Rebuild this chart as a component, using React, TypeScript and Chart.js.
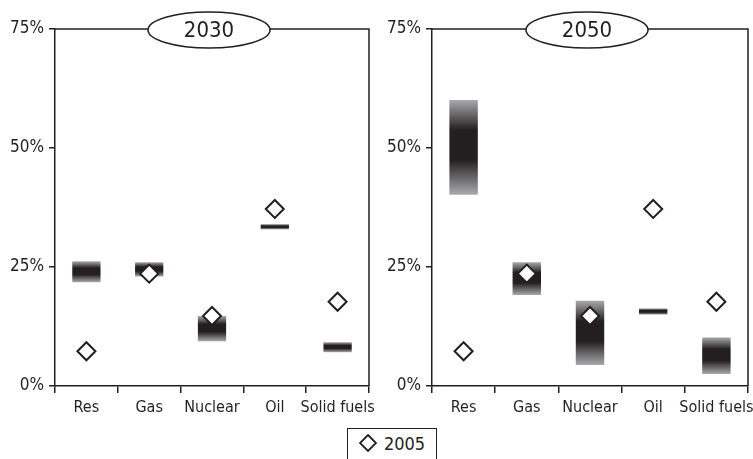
import React, { useEffect, useRef } from "react";
import { Chart, registerables } from "chart.js";

Chart.register(...registerables);

const categories = ["Res", "Gas", "Nuclear", "Oil", "Solid fuels"];
const values2005 = [7.3, 23.6, 14.7, 37.2, 17.7];
const low2030 = [21.8, 23.0, 9.4, 32.9, 7.1];
const high2030 = [26.2, 26.0, 14.7, 34.0, 9.2];
const low2050 = [40.2, 19.1, 4.4, 15.0, 2.5];
const high2050 = [60.1, 26.0, 17.9, 16.3, 10.2];
const yTicks = [0, 25, 50, 75];

const INK = "#231f20";
const GREY = "#a9a9ac";
const FONT = "'Liberation Sans Narrow', 'DejaVu Sans Condensed', 'Open Sans', sans-serif";

function makeChart(
  canvas: HTMLCanvasElement,
  title: string,
  lows: number[],
  highs: number[],
  axisWidth: number,
  padRight: number
) {
  const framePlugin = {
    id: "frame" + title,
    afterDraw(chart: any) {
      const { ctx, chartArea } = chart;
      const { left, right, top, bottom } = chartArea;
      ctx.save();
      ctx.strokeStyle = INK;
      ctx.lineWidth = 1.5;
      ctx.beginPath();
      ctx.moveTo(left, top);
      ctx.lineTo(right, top);
      ctx.lineTo(right, bottom);
      ctx.stroke();
      const cx = (left + right) / 2 - 3;
      const cy = top + 1;
      ctx.beginPath();
      ctx.ellipse(cx, cy, 61, 18, 0, 0, Math.PI * 2);
      ctx.fillStyle = "#ffffff";
      ctx.fill();
      ctx.stroke();
      ctx.fillStyle = INK;
      ctx.font = "22px " + FONT;
      ctx.textAlign = "center";
      ctx.textBaseline = "middle";
      ctx.fillText(title, cx, cy + 1);
      ctx.restore();
    },
  };

  return new Chart(canvas, {
    type: "bar",
    data: {
      labels: categories,
      datasets: [
        {
          type: "line",
          label: "2005",
          data: values2005,
          showLine: false,
          pointStyle: "rectRot",
          pointRadius: 9,
          pointHoverRadius: 9,
          pointBorderWidth: 2,
          pointBorderColor: INK,
          pointBackgroundColor: "#ffffff",
          order: 0,
        } as any,
        {
          type: "bar",
          label: title,
          data: lows.map((l, i) => [l, highs[i]]),
          barPercentage: 0.45,
          categoryPercentage: 1,
          borderWidth: 0,
          borderSkipped: false,
          order: 1,
          backgroundColor: (c: any) => {
            const chart = c.chart;
            const raw = c.raw as [number, number];
            if (!chart.chartArea || !raw) return GREY;
            const y = chart.scales.y;
            const t = y.getPixelForValue(raw[1]);
            const b = y.getPixelForValue(raw[0]);
            const g = chart.ctx.createLinearGradient(0, t, 0, b);
            g.addColorStop(0, GREY);
            g.addColorStop(0.32, INK);
            g.addColorStop(0.63, INK);
            g.addColorStop(1, GREY);
            return g;
          },
        } as any,
      ],
    },
    options: {
      animation: false,
      responsive: false,
      maintainAspectRatio: false,
      layout: { autoPadding: false, padding: { top: 29, right: padRight, bottom: 0, left: 0 } },
      plugins: { legend: { display: false }, tooltip: { enabled: false } },
      scales: {
        x: {
          offset: true,
          afterFit: (s: any) => {
            s.height = 34;
            s.paddingLeft = 0;
            s.paddingRight = 0;
          },
          grid: {
            offset: true,
            drawOnChartArea: false,
            drawTicks: true,
            tickLength: 7,
            color: INK,
            lineWidth: 1.5,
          },
          border: { display: true, color: INK, width: 1.5 },
          ticks: { color: INK, font: { size: 16, family: FONT }, padding: 5, maxRotation: 0, autoSkip: false },
        },
        y: {
          min: 0,
          max: 75,
          afterFit: (s: any) => {
            s.width = axisWidth;
            s.paddingTop = 0;
            s.paddingBottom = 0;
          },
          afterBuildTicks: (s: any) => {
            s.ticks = yTicks.map((v) => ({ value: v }));
          },
          grid: {
            drawOnChartArea: false,
            drawTicks: true,
            tickLength: 6,
            color: INK,
            lineWidth: 1.5,
          },
          border: { display: true, color: INK, width: 1.5 },
          ticks: {
            color: INK,
            font: { size: 17, family: FONT },
            padding: 5,
            callback: (v: any) => v + "%",
          },
        },
      },
    },
    plugins: [framePlugin],
  });
}

export default function App() {
  const leftRef = useRef<HTMLCanvasElement>(null);
  const rightRef = useRef<HTMLCanvasElement>(null);

  useEffect(() => {
    document.body.style.margin = "0";
    const a = makeChart(leftRef.current!, "2030", low2030, high2030, 55, 7);
    const b = makeChart(rightRef.current!, "2050", low2050, high2050, 56, 5);
    return () => {
      a.destroy();
      b.destroy();
    };
  }, []);

  return (
    <div style={{ position: "relative", width: 753, height: 459, background: "#fff", overflow: "hidden" }}>
      <canvas ref={leftRef} width={376} height={420} style={{ position: "absolute", left: 0, top: 0 }} />
      <canvas ref={rightRef} width={377} height={420} style={{ position: "absolute", left: 376, top: 0 }} />
      <div
        style={{
          position: "absolute",
          left: 347,
          top: 428,
          width: 90,
          height: 36,
          border: "1.5px solid " + INK,
          boxSizing: "border-box",
          display: "flex",
          alignItems: "center",
          justifyContent: "center",
          gap: 7,
          fontFamily: FONT,
          fontSize: 18,
          color: INK,
          paddingBottom: 6,
        }}
      >
        <svg width="18" height="18" viewBox="0 0 18 18">
          <polygon points="9,1 17,9 9,17 1,9" fill="#fff" stroke={INK} strokeWidth="1.8" />
        </svg>
        <span>2005</span>
      </div>
    </div>
  );
}
